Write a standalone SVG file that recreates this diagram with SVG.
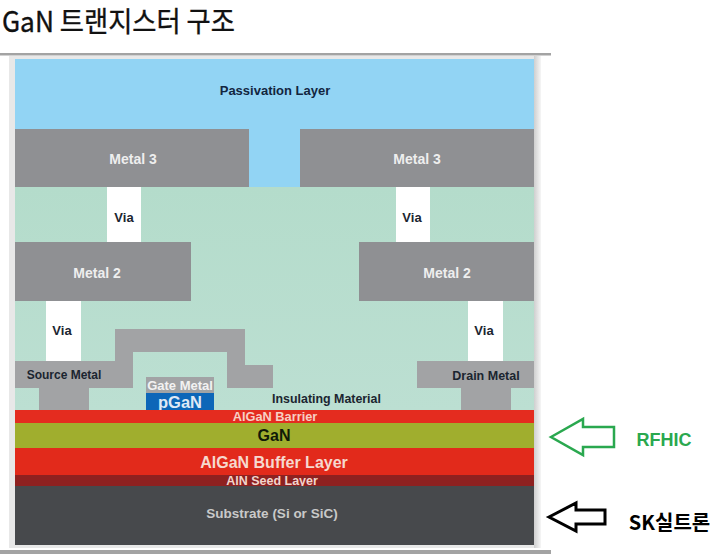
<svg xmlns="http://www.w3.org/2000/svg" width="725" height="554" viewBox="0 0 725 554">
<defs>
<linearGradient id="edge" x1="0" x2="1" y1="0" y2="0"><stop offset="0" stop-color="#cfcfcf"/><stop offset="1" stop-color="#f6f6f6"/></linearGradient>
<linearGradient id="ins" x1="0" x2="0" y1="0" y2="1"><stop offset="0" stop-color="#b4dccb"/><stop offset="1" stop-color="#bcdfd2"/></linearGradient>
</defs>
<style>
text{font-family:"Liberation Sans","Noto Sans CJK KR",sans-serif;text-anchor:middle}
.b{font-weight:700}
.m{fill:#8f9093}
.mt{fill:#eeeeee;font-size:14px;font-weight:700}
.v{fill:#ffffff}
.d{fill:#1b2530;font-size:13px;font-weight:700}
</style>
<rect width="725" height="554" fill="#ffffff"/>
<text x="118.500" y="32" font-size="28" fill="#111111" stroke="#111111" stroke-width="0.35" textLength="233" lengthAdjust="spacingAndGlyphs" style="font-family:'Noto Sans CJK KR','Liberation Sans',sans-serif">GaN 트랜지스터 구조</text>
<rect x="9" y="56" width="532" height="492" fill="#e8e8e8"/>
<rect x="534" y="56" width="7" height="492" fill="url(#edge)"/>
<rect x="0" y="53" width="551" height="2.500" fill="#a3a3a3"/>
<rect x="0" y="550" width="551" height="4" fill="#a3a3a3"/>
<g id="passivation"><rect x="15" y="59" width="519" height="128" fill="#92d4f4"/><text x="275" y="95" font-size="13" class="b" fill="#12263f">Passivation Layer</text></g>
<g id="insulating"><rect x="15" y="187" width="519" height="223" fill="url(#ins)"/><text x="326.500" y="403" class="d" style="font-size:12.400px" fill="#111">Insulating Material</text></g>
<g id="via-1"><rect class="v" x="107" y="187" width="34" height="55"/><text x="124" y="222" class="d">Via</text></g>
<g id="via-2"><rect class="v" x="396" y="187" width="34" height="55"/><text x="412" y="222" class="d">Via</text></g>
<g id="via-3"><rect class="v" x="46" y="301" width="35" height="60"/><text x="62" y="335" class="d">Via</text></g>
<g id="via-4"><rect class="v" x="468" y="301" width="35" height="60"/><text x="484" y="335" class="d">Via</text></g>
<g id="metal3-left"><rect class="m" x="15" y="129" width="234" height="58"/><text x="133" y="164" class="mt">Metal 3</text></g>
<g id="metal3-right"><rect class="m" x="300" y="129" width="234" height="58"/><text x="417" y="164" class="mt">Metal 3</text></g>
<g id="metal2-left"><rect class="m" x="15" y="242" width="176" height="59"/><text x="97" y="278" class="mt">Metal 2</text></g>
<g id="metal2-right"><rect class="m" x="359" y="242" width="175" height="59"/><text x="447" y="278" class="mt">Metal 2</text></g>
<g id="source-metal"><path fill="#a2a3a5" d="M15 361H115V329H245V365H273V388H227V352H133V388H89V410H39V388H15Z"/><text x="64" y="379" class="d" style="font-size:12px">Source Metal</text></g>
<g id="drain-metal"><path fill="#a2a3a5" d="M417 361H534V388H511V410H461V388H417Z"/><text x="486" y="380" class="d" style="font-size:12.500px">Drain Metal</text></g>
<g id="gate-metal"><rect x="146" y="377" width="68" height="16" fill="#a2a3a5"/><text x="180" y="390" font-size="13" class="b" fill="#f2f2f2">Gate Metal</text></g>
<g id="pgan"><rect x="146" y="393" width="68" height="17" fill="#0d66b8"/><text x="180" y="408" font-size="16.500" class="b" fill="#dfe9f5">pGaN</text></g>
<g id="algan-barrier"><rect x="15" y="410" width="519" height="13" fill="#e42c1f"/><text x="275" y="421" font-size="12.800" class="b" fill="#f7cfc4">AlGaN Barrier</text></g>
<g id="gan"><rect x="15" y="423" width="519" height="25" fill="#a0ae2e"/><text x="274" y="441" font-size="16" class="b" fill="#111a08">GaN</text></g>
<g id="algan-buffer"><rect x="15" y="448" width="519" height="27" fill="#e22a1b"/><text x="274" y="468" font-size="16" class="b" fill="#f6d9cf">AlGaN Buffer Layer</text></g>
<g id="aln-seed"><rect x="15" y="475" width="519" height="11" fill="#8e2120"/><text x="272" y="485" font-size="12.500" class="b" fill="#f2d5cc">AlN Seed Layer</text></g>
<g id="substrate"><rect x="15" y="486" width="519" height="59" fill="#47494c"/><text x="272" y="518" font-size="13.500" class="b" fill="#c9c9c9">Substrate (Si or SiC)</text></g>
<g id="connectors">
<path d="M551 437L583 419V427H614V447H583V455Z" fill="#ffffff" stroke="#2aa84f" stroke-width="2.500"/>
<path d="M549 517L576 503V510H605V524H576V531Z" fill="#ffffff" stroke="#000000" stroke-width="3"/>
</g>
<g id="label-rfhic"><text x="664" y="446" font-size="18" class="b" fill="#2aa84f">RFHIC</text></g>
<g id="label-sk"><text x="669.500" y="530" font-size="20" class="b" fill="#000000" style="font-family:'Noto Sans CJK KR','Liberation Sans',sans-serif">SK실트론</text></g>
</svg>
